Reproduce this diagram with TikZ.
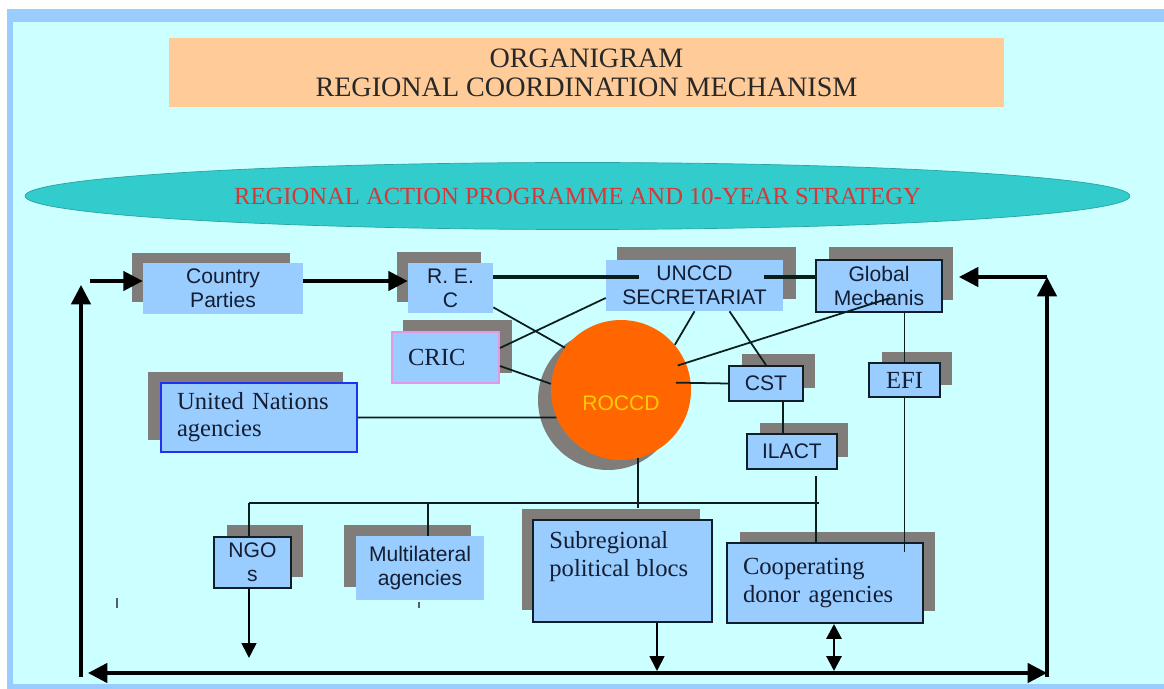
\documentclass[tikz,border=0pt]{standalone}
\usepackage{fontspec}
\setmainfont{Liberation Serif}
\setsansfont{Liberation Sans}
\usetikzlibrary{arrows.meta,calc,positioning,shapes.geometric}

\definecolor{panel}{RGB}{204,255,255}
\definecolor{frameblue}{RGB}{153,204,255}
\definecolor{boxblue}{RGB}{153,204,255}
\definecolor{peach}{RGB}{255,204,153}
\definecolor{ellteal}{RGB}{51,204,204}
\definecolor{shadegray}{RGB}{128,124,122}
\definecolor{roccdorange}{RGB}{255,102,0}
\definecolor{roccdtext}{RGB}{255,204,0}
\definecolor{cricpink}{RGB}{230,150,230}
\definecolor{unblue}{RGB}{30,50,240}
\definecolor{stratred}{RGB}{215,55,55}
\definecolor{titletext}{RGB}{40,40,40}
\definecolor{boxtext}{RGB}{20,30,50}
\definecolor{boxedge}{RGB}{15,30,40}
\definecolor{linkcol}{RGB}{10,30,30}

\tikzset{
  unit/.style={fill=boxblue, inner sep=0pt, align=center, text=boxtext,
    font=\sffamily\fontsize{12}{13.5}\selectfont},
  framed/.style={unit, draw=boxedge, line width=1.1pt},
  serifunit/.style={font=\rmfamily\fontsize{14}{15.5}\selectfont},
  link/.style={draw=linkcol, line width=1pt},
  bus/.style={draw=linkcol, line width=0.8pt},
  flow/.style={line width=1.9pt, -{Triangle[length=11pt,width=11pt]}},
  drop/.style={line width=1pt, -{Triangle[length=8.5pt,width=8.5pt]}},
}

\begin{document}
\begin{tikzpicture}[x=0.02cm,y=-0.02cm]
\useasboundingbox (0,0) rectangle (1164,689);
% frame and panel
\fill[white] (0,0) rectangle (1164,689);
\fill[frameblue] (7,9) rectangle (1164,689);
\fill[panel] (13,22) rectangle (1164,684);

% title and strategy
\node[fill=peach, minimum width=16.7cm, minimum height=1.38cm, align=center,
      text=titletext, font=\fontsize{16}{16.5}\selectfont] (title) at (586.5,72.5)
      {ORGANIGRAM\\REGIONAL COORDINATION MECHANISM};
\node[ellipse, fill=ellteal, draw=ellteal!80!black, line width=0.4pt,
      minimum width=22.1cm, minimum height=1.34cm, inner sep=0pt,
      text=stratred, font=\fontsize{14}{16}\selectfont] (rap) at (577.5,196)
      {REGIONAL ACTION PROGRAMME AND 10-YEAR STRATEGY};

% shadows
\fill[shadegray] (132,253) rectangle (290,302);
\fill[shadegray] (397,252) rectangle (481,302);
\fill[shadegray] (617,247) rectangle (796,299);
\fill[shadegray] (829,247) rectangle (953,300);
\fill[shadegray] (403,320) rectangle (512,373);
\fill[shadegray] (148,372) rectangle (343,440);
\fill[shadegray] (742,354) rectangle (815,388);
\fill[shadegray] (882,352) rectangle (952,385);
\fill[shadegray] (760,423) rectangle (848,457);
\fill[shadegray] (227,525) rectangle (303,577);
\fill[shadegray] (344,525) rectangle (471,587);
\fill[shadegray] (522,509) rectangle (700,610);
\fill[shadegray] (740,532) rectangle (935,611);
\fill[shadegray] (608,400) circle[radius=70];

% bodies
\node[unit, minimum width=3.2cm, minimum height=1.02cm] (cp) at (223,288.5) {Country\\Parties};
\node[unit, minimum width=1.7cm, minimum height=1cm] (rec) at (450.5,288) {R. E.\\C};
\node[unit, minimum width=3.54cm, minimum height=1.02cm] (unccd) at (694.5,285.5) {UNCCD\\SECRETARIAT};
\node[framed, minimum width=2.52cm, minimum height=1.04cm] (glob) at (879,286) {Global\\Mechanis};
\node[unit, serifunit, draw=cricpink, line width=1.1pt, minimum width=2.14cm, minimum height=1.02cm,
      text width=1.5cm, align=left] (cric) at (445.5,357.5) {CRIC};
\node[unit, serifunit, draw=unblue, line width=1.2pt, minimum width=3.92cm, minimum height=1.38cm,
      text width=3.28cm, align=left] (una) at (259,417.5) {United Nations\\agencies};
\node[circle, fill=roccdorange, minimum size=2.8cm, inner sep=0pt] (roccd) at (621,390) {};
\node[text=roccdtext, font=\sffamily\fontsize{12}{14}\selectfont] (roccdlabel)
      at ([shift={(0,13)}]roccd.center) {ROCCD};
\node[framed, minimum width=1.48cm, minimum height=0.7cm] (cst) at (766,383.5) {CST};
\node[framed, serifunit, minimum width=1.42cm, minimum height=0.68cm] (efi) at (904.5,380) {EFI};
\node[framed, minimum width=1.8cm, minimum height=0.7cm] (ilact) at (792,451.5) {ILACT};
\node[framed, minimum width=1.54cm, minimum height=1.02cm] (ngo) at (252.5,562.5) {NGO\\s};
\node[unit, minimum width=2.56cm, minimum height=1.28cm] (multi) at (420,568) {Multilateral\\agencies};
\node[framed, minimum width=3.58cm, minimum height=2.04cm] (subreg) at (622.5,571) {};
\node[anchor=north west, align=left, text=boxtext, inner sep=0pt,
      font=\fontsize{14}{16}\selectfont] (subregtext)
      at ([shift={(17,12)}]subreg.north west) {Subregional\\political blocs};
\node[framed, serifunit, minimum width=3.92cm, minimum height=1.6cm,
      text width=3.28cm, align=left] (coop) at (825,583) {Cooperating\\donor agencies};

% outer loop
\coordinate (cpin) at (90,281);
\coordinate (lbot) at (81,677);
\coordinate (ltop) at (81,285);
\coordinate (rbot) at (1047,677);
\coordinate (rtop) at (1047,277);
\coordinate (loopw) at (88,673);
\coordinate (loope) at (1047,673);
\draw[flow] (lbot) -- (ltop);
\draw[flow] (rbot) -- (rtop);
\draw[flow] (rtop) -- ([shift={(16,-9)}]glob.east);
\draw[line width=1.9pt, {Triangle[length=11pt,width=11pt]}-{Triangle[length=11pt,width=11pt]}] (loopw) -- (loope);
\draw[flow] (cpin) -- ([shift={(0,-7.5)}]cp.west);
\draw[flow] ([shift={(0,-7.5)}]cp.east) -- ([shift={(0,-7)}]rec.west);

% top row
\draw[line width=1.9pt, linkcol] ([shift={(0,-11)}]rec.east) -- ([shift={(-56,-8.5)}]unccd.center);
\draw[line width=1.9pt, linkcol] ([shift={(69,-8.5)}]unccd.center) -- ([shift={(0,-9)}]glob.west);

% links round ROCCD
\draw[link] ([shift={(0,-6)}]rec.south east) -- (roccd.143);
\draw[link] ([shift={(0,-9.5)}]cric.east) -- ([shift={(0,12.5)}]unccd.west);
\draw[link] ([shift={(0,8.5)}]cric.east) -- (roccd.175);
\draw[link] (una.east) -- (roccd.203);
\draw[link] (unccd.south) -- (roccd.40);
\draw[link] ([shift={(35,0)}]unccd.south) -- (cst.north);
\draw[link] ([shift={(11,12)}]glob.center) -- ([shift={(-8,3)}]roccd.23);
\draw[link] (cst.west) -- ([shift={(-15,0)}]roccd.6);
\draw[link] (efi.north |- glob.south) -- (efi.north);
\draw[link] (efi.south) -- ++(0,154);
\coordinate (cstdrop) at ([shift={(17,0)}]cst.south);
\draw[link] (cstdrop) -- (cstdrop |- ilact.north);
\coordinate (ildrop) at ([shift={(24,6)}]ilact.south);
\draw[link] (ildrop) -- (ildrop |- coop.north);

% lower bus
\coordinate (busw) at (249,503);
\coordinate (buse) at (819,503);
\coordinate (busm) at (428,503);
\draw[bus] (busw) -- (buse);
\draw[bus] (busw) -- (busw |- ngo.north);
\draw[bus] (busm) -- (busm |- multi.north);
\draw[link] (roccd.284) -- ($(roccd.284 |- subreg.north)+(0,-11)$);

% down arrows
\coordinate (ngoout) at ([shift={(-3.5,0)}]ngo.south);
\draw[drop] (ngoout) -- ++(0,69);
\coordinate (subout) at ([shift={(34.5,0)}]subreg.south);
\draw[drop] (subout) -- ($(subout |- loopw)+(0,-2)$);
\coordinate (coopout) at ([shift={(9,0)}]coop.south);
\draw[line width=1.7pt, {Triangle[length=8.5pt,width=8.5pt]}-{Triangle[length=8.5pt,width=8.5pt]}]
      (coopout) -- ($(coopout |- loopw)+(0,-2)$);

% stray ticks
\draw[line width=1pt, linkcol!70] (117,598) -- (117,608);
\draw[line width=1pt, linkcol!70] (419,602) -- (419,608);
\end{tikzpicture}
\end{document}
